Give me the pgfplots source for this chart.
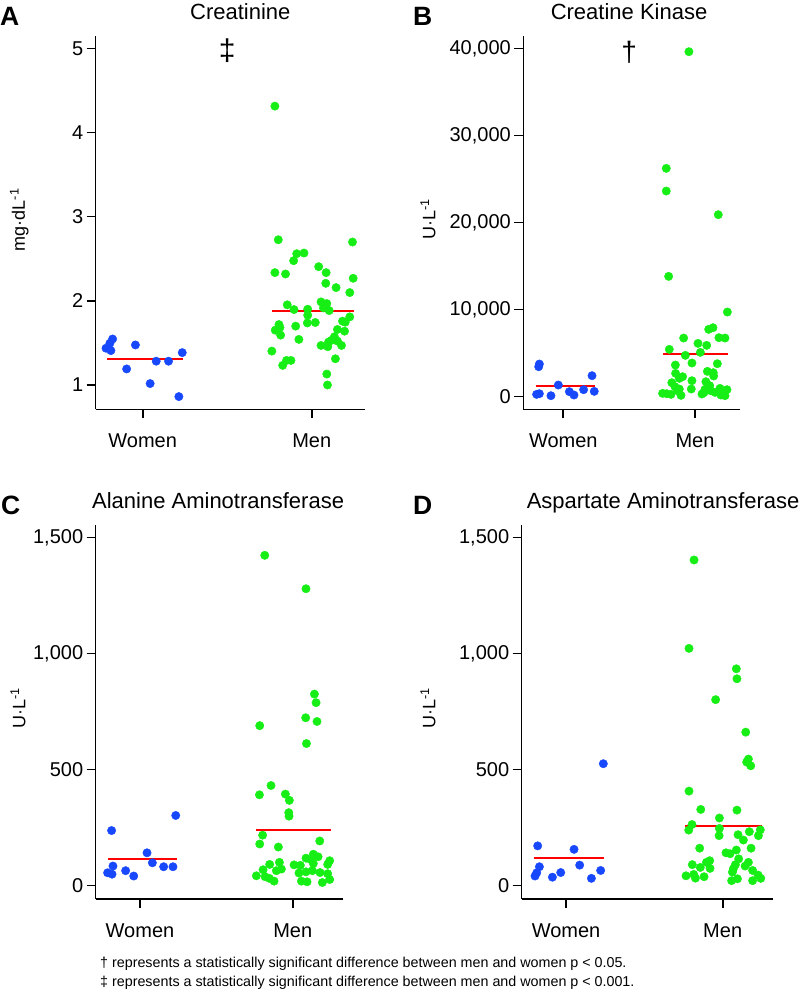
\documentclass[border=0pt]{standalone}
\usepackage{fontspec}
\setmainfont{Liberation Sans}
\usepackage{pgfplots}
\pgfplotsset{compat=1.18}

\definecolor{wblue}{RGB}{24,72,252}
\definecolor{mgreen}{RGB}{22,238,22}

\newcommand{\fs}[1]{\fontsize{#1}{#1}\selectfont}

\pgfplotsset{
  panel/.style={
    scale only axis,
    height=373.3pt,
    axis lines*=left,
    axis line style={line width=1.4pt,-},
    tick align=outside,
    major tick length=9pt,
    xtick style={line width=2pt,black},
    ytick style={line width=1.4pt,black},
    xtick={0,1}, xticklabels={Women,Men},
    xticklabel style={font=\fs{20}, anchor=base, yshift=-29pt},
    yticklabel style={font=\fs{20}},
    /pgf/number format/assume math mode=true,
    /pgf/number format/1000 sep={,},
    scaled y ticks=false,
    ylabel style={font=\fs{18}, anchor=center},
    clip=false,
  },
  women/.style={only marks, mark=*, mark size=4.2pt, color=wblue},
  men/.style={only marks, mark=*, mark size=4.2pt, color=mgreen},
  meanline/.style={red, line width=2pt, no marks},
}

\begin{document}
\begin{tikzpicture}
\useasboundingbox (0pt,0pt) rectangle (802pt,994pt);

% ---------------- A: Creatinine
\begin{axis}[panel, at={(95.7pt,584.7pt)}, anchor=south west,
  width=269.3pt,
  xmin=-0.278, xmax=1.315, ymin=0.711, ymax=5.15,
  ytick={1,2,3,4,5},
  title={Creatinine},
  title style={at={(0.537,1)}, anchor=base, yshift=10pt, font=\fs{22}},
  ylabel={mg·dL\textsuperscript{-1}},
  ylabel style={at={(axis description cs:-0.284,0.508)}},
]
\addplot[women] coordinates {(-0.217,1.437) (-0.188,1.409) (-0.194,1.496) (-0.178,1.547)
  (-0.043,1.476) (-0.095,1.191) (0.044,1.017) (0.080,1.283) (0.153,1.283) (0.234,1.385) (0.214,0.862)};
\addplot[men] coordinates {(0.782,4.316) (0.802,2.727) (1.241,2.700) (0.911,2.561) (0.954,2.569)
  (0.893,2.478) (1.041,2.407) (0.782,2.336) (0.845,2.320) (1.085,2.336) (1.245,2.269) (1.083,2.209)
  (1.144,2.158) (1.225,2.099) (0.855,1.953) (1.055,1.988) (1.089,1.968) (0.895,1.897) (0.976,1.901)
  (1.069,1.917) (1.103,1.885) (0.976,1.830) (1.225,1.810) (1.182,1.759) (1.198,1.747) (0.974,1.738)
  (1.021,1.743) (0.806,1.719) (0.812,1.684) (0.905,1.700) (0.784,1.652) (0.816,1.593) (1.152,1.660)
  (1.194,1.640) (1.134,1.573) (0.924,1.542) (1.115,1.530) (1.099,1.510) (1.152,1.522) (1.055,1.470)
  (1.095,1.455) (1.176,1.470) (0.764,1.403) (0.851,1.292) (0.877,1.292) (0.828,1.233) (1.140,1.312)
  (1.089,1.130) (1.093,1.000)};
\addplot[meanline] coordinates {(-0.211,1.310) (0.238,1.310)};
\addplot[meanline] coordinates {(0.762,1.874) (1.247,1.874)};
\node[font=\fs{30}] at (axis cs:0.50,4.97) {‡};
\end{axis}

% ---------------- B: Creatine Kinase
\begin{axis}[panel, at={(523.3pt,584.7pt)}, anchor=south west,
  width=216.7pt,
  xmin=-0.304, xmax=1.342, ymin=-1448, ymax=41460,
  ytick={0,10000,20000,30000,40000},
  title={Creatine Kinase},
  title style={at={(0.488,1)}, anchor=base, yshift=10pt, font=\fs{22}},
  ylabel={U·L\textsuperscript{-1}},
  ylabel style={at={(axis description cs:-0.44,0.509)}},
]
\addplot[women] coordinates {(-0.182,3755) (-0.187,3448) (-0.203,268) (-0.182,345) (-0.094,115)
  (-0.038,1341) (0.046,575) (0.081,192) (0.154,805) (0.218,2414) (0.235,613)};
\addplot[men] coordinates {(0.954,39655) (0.782,26245) (0.782,23640) (1.177,20920) (0.800,13831)
  (1.246,9732) (1.137,7931) (1.104,7739) (0.914,6743) (1.182,6782) (1.228,6743) (1.023,6130)
  (1.089,5900) (0.805,5441) (1.041,5096) (0.927,4751) (0.851,3640) (0.977,3870) (1.170,3793)
  (0.853,2682) (1.094,2912) (1.139,2759) (0.906,2299) (0.881,2107) (1.142,2375) (0.824,1609)
  (0.977,1839) (1.083,1724) (0.848,1149) (1.112,1264) (1.076,843) (0.972,881) (0.881,881)
  (0.868,690) (0.754,383) (0.785,345) (0.818,268) (0.894,153) (1.053,307) (1.068,460)
  (1.152,498) (1.190,958) (1.205,536) (1.197,192) (1.228,115) (1.243,805) (1.119,690)};
\addplot[meanline] coordinates {(-0.210,1264) (0.241,1264)};
\addplot[meanline] coordinates {(0.759,4866) (1.248,4866)};
\node[font=\fs{28}] at (axis cs:0.50,39620) {†};
\end{axis}

% ---------------- C: Alanine Aminotransferase
\begin{axis}[panel, at={(95.7pt,95pt)}, anchor=south west,
  width=246.8pt, height=374pt,
  xmin=-0.290, xmax=1.326, ymin=-57, ymax=1554.7,
  ytick={0,500,1000,1500},
  title={Alanine Aminotransferase},
  title style={at={(0.496,1)}, anchor=base, yshift=10pt, font=\fs{22}},
  ylabel={U·L\textsuperscript{-1}},
  ylabel style={at={(axis description cs:-0.315,0.511)}},
]
\addplot[women] coordinates {(-0.186,238) (-0.177,85) (-0.212,56) (-0.183,50) (-0.094,65)
  (-0.041,42) (0.046,142) (0.081,99) (0.155,82) (0.216,82) (0.234,303)};
\addplot[men] coordinates {(0.817,1424) (1.087,1280) (1.142,826) (1.153,789) (1.085,724)
  (1.159,708) (0.784,690) (1.090,613) (0.858,432) (0.782,392) (0.952,395) (0.978,368)
  (0.974,315) (0.976,300) (0.803,218) (0.784,180) (0.906,167) (1.177,193) (1.135,136)
  (1.087,119) (1.166,125) (1.118,113) (1.242,108) (0.913,101) (0.849,92) (1.009,90)
  (1.050,88) (1.229,92) (0.806,69) (0.926,72) (0.893,65) (1.041,55) (1.087,60) (1.129,65)
  (1.179,57) (1.229,52) (0.762,43) (0.819,39) (0.847,32) (0.878,20) (1.057,20) (1.094,17)
  (1.194,14) (1.242,27) (1.135,96)};
\addplot[meanline] coordinates {(-0.212,115) (0.240,115)};
\addplot[meanline] coordinates {(0.760,241) (1.249,241)};
\end{axis}

% ---------------- D: Aspartate Aminotransferase
\begin{axis}[panel, at={(521.7pt,95pt)}, anchor=south west,
  width=251.6pt, height=374pt,
  xmin=-0.283, xmax=1.323, ymin=-57, ymax=1554.7,
  ytick={0,500,1000,1500},
  title={Aspartate Aminotransferase},
  title style={at={(0.562,1)}, anchor=base, yshift=10pt, font=\fs{22}},
  ylabel={U·L\textsuperscript{-1}},
  ylabel style={at={(axis description cs:-0.372,0.511)}},
]
\addplot[women] coordinates {(-0.181,172) (-0.170,82) (-0.187,56) (-0.198,42) (-0.087,37)
  (-0.034,57) (0.051,157) (0.087,89) (0.162,32) (0.221,66) (0.238,526)};
\addplot[men] coordinates {(0.817,1404) (0.785,1023) (1.087,935) (1.091,892) (0.955,802)
  (1.147,662) (1.164,546) (1.153,533) (1.179,517) (0.785,408) (0.860,329) (1.091,326)
  (0.979,292) (0.804,264) (0.783,240) (0.979,247) (1.240,241) (1.170,233) (0.977,216)
  (1.098,220) (1.228,216) (1.132,197) (0.853,162) (1.181,162) (1.087,154) (1.021,142)
  (1.047,138) (1.102,116) (0.917,108) (0.806,91) (0.896,101) (1.164,101) (1.081,91)
  (0.857,79) (0.919,75) (1.143,85) (1.068,73) (1.191,66) (1.062,59) (0.766,43) (0.815,49)
  (0.826,33) (0.881,39) (1.226,46) (1.243,32) (1.094,30) (1.057,22) (1.191,22)};
\addplot[meanline] coordinates {(-0.204,121) (0.243,121)};
\addplot[meanline] coordinates {(0.762,256) (1.251,256)};
\end{axis}

% panel letters
\node[anchor=base west, inner sep=0pt, font=\bfseries\fs{26.5}] at (0pt,968pt) {A};
\node[anchor=base west, inner sep=0pt, font=\bfseries\fs{26.5}] at (413pt,968pt) {B};
\node[anchor=base west, inner sep=0pt, font=\bfseries\fs{26.5}] at (1pt,479pt) {C};
\node[anchor=base west, inner sep=0pt, font=\bfseries\fs{26.5}] at (413pt,479pt) {D};

% footnotes
\node[anchor=base west, inner sep=0pt, font=\fs{14.3}] at (100pt,27pt)
  {† represents a statistically significant difference between men and women p < 0.05.};
\node[anchor=base west, inner sep=0pt, font=\fs{14.3}] at (100pt,7pt)
  {‡ represents a statistically significant difference between men and women p < 0.001.};
\end{tikzpicture}
\end{document}
